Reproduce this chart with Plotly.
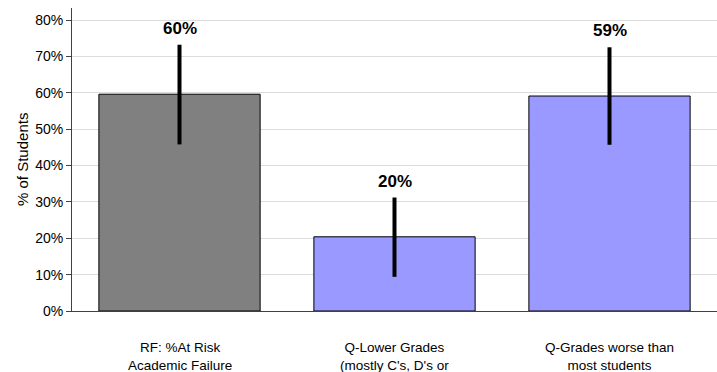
import plotly.graph_objects as go

categories = ["RF: %At Risk Academic Failure",
              "Q-Lower Grades (mostly C's, D's or F's)",
              "Q-Grades worse than most students"]
tick_labels = ["RF: %At Risk<br>Academic Failure",
               "Q-Lower Grades<br>(mostly C's, D's or<br>F's)",
               "Q-Grades worse than<br>most students"]
values = [0.596, 0.204, 0.591]
upper = [0.732, 0.312, 0.725]
lower = [0.458, 0.094, 0.457]
value_labels = ["60%", "20%", "59%"]
bar_colors = ["#808080", "#9999FF", "#9999FF"]
y_ticks = [0, 0.1, 0.2, 0.3, 0.4, 0.5, 0.6, 0.7, 0.8]

FONT = "Liberation Sans, Arial, sans-serif"

fig = go.Figure()
fig.add_trace(go.Bar(
    x=categories, y=values,
    marker=dict(color=bar_colors, line=dict(color="#000000", width=1)),
    error_y=dict(type="data", symmetric=False,
                 array=[u - v for u, v in zip(upper, values)],
                 arrayminus=[v - l for v, l in zip(values, lower)],
                 color="#000000", thickness=4, width=0),
    hoverinfo="skip",
))

annotations = []
for cat, up, lab in zip(categories, upper, value_labels):
    annotations.append(dict(x=cat, y=up, xref="x", yref="y", text="<b>%s</b>" % lab,
                            showarrow=False, yanchor="bottom", yshift=5,
                            font=dict(family=FONT, size=17, color="#000000")))
for cat, lab in zip(categories, tick_labels):
    annotations.append(dict(x=cat, y=0, xref="x", yref="paper", text=lab,
                            showarrow=False, yanchor="top", yshift=-27,
                            font=dict(family=FONT, size=13.5, color="#000000")))
annotations.append(dict(x=0, y=0.5, xref="paper", yref="paper", text="% of Students",
                        textangle=-90, showarrow=False, xshift=-60,
                        font=dict(family=FONT, size=15, color="#000000")))

fig.update_layout(
    width=717, height=372,
    margin=dict(l=72, r=0, t=8, b=61),
    paper_bgcolor="#FFFFFF", plot_bgcolor="#FFFFFF",
    bargap=0.25, showlegend=False,
    font=dict(family=FONT, size=13, color="#000000"),
    annotations=annotations,
    xaxis=dict(showticklabels=False, showline=True, linecolor="#404040", linewidth=1,
               ticks="", showgrid=False, fixedrange=True),
    yaxis=dict(range=[0, 0.833], tickvals=y_ticks, tickformat=".0%",
               showline=True, linecolor="#404040", linewidth=1,
               ticks="outside", ticklen=5, tickcolor="#404040",
               showgrid=True, gridcolor="#DCDCDC", gridwidth=1, zeroline=False,
               tickfont=dict(family=FONT, size=14, color="#000000"), fixedrange=True),
)

fig.write_html("out.html", config={"displayModeBar": False},
               post_script="document.body.style.margin='0';document.body.style.overflow='hidden';")
